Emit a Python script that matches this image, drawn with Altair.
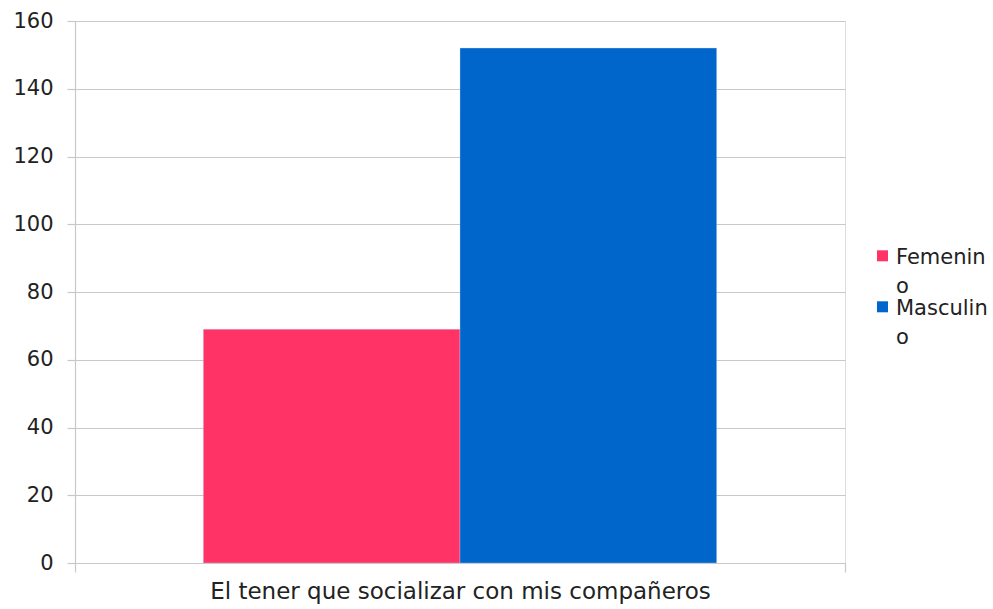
import altair as alt
import pandas as pd

categories = ["El tener que socializar con mis compañeros"]
genders = ["Femenino", "Masculino"]
values = [69, 152]
colors = ["#FF3366", "#0066CC"]
y_ticks = [0, 20, 40, 60, 80, 100, 120, 140, 160]

df = pd.DataFrame({
    "categoria": [categories[0]] * len(genders),
    "genero": genders,
    "valor": values,
})

FONT = "DejaVu Sans"
GRID = "#c8c8c8"
TEXT = "#222222"

chart = alt.Chart(df).mark_bar(stroke="#bcd6f5", strokeWidth=0.6, strokeOpacity=0.6).encode(
    x=alt.X("categoria:N",
            scale=alt.Scale(paddingInner=0, paddingOuter=0),
            axis=alt.Axis(title=None, labelAngle=0, tickBand="extent", grid=False,
                          domain=False, ticks=True, tickSize=9, tickColor=GRID, tickWidth=1.2,
                          labelFont=FONT, labelFontSize=23, labelColor=TEXT,
                          labelPadding=8, labelLimit=800)),
    xOffset=alt.XOffset("genero:N", scale=alt.Scale(domain=genders, paddingInner=0, paddingOuter=0.5)),
    y=alt.Y("valor:Q",
            scale=alt.Scale(domain=[0, 160], nice=False),
            axis=alt.Axis(title=None, values=y_ticks, grid=True, gridColor=GRID, gridWidth=1.2,
                          domain=True, domainColor=GRID, domainWidth=1.2,
                          tickColor=GRID, tickSize=8, tickWidth=1.2,
                          labelFont=FONT, labelFontSize=21, labelColor=TEXT,
                          labelPadding=14)),
    color=alt.Color("genero:N",
                    scale=alt.Scale(domain=genders, range=colors),
                    legend=alt.Legend(title=None, orient="none", legendX=797, legendY=232,
                                      symbolType="M-1,-2.4H1V-0.4H-1Z", symbolSize=121,
                                      symbolStrokeWidth=0,
                                      labelFont=FONT, labelFontSize=21, labelColor=TEXT,
                                      labelExpr="[slice(datum.label, 0, length(datum.label) - 1), slice(datum.label, length(datum.label) - 1)]",
                                      labelBaseline="alphabetic", labelOffset=3,
                                      rowPadding=0, padding=0)),
).properties(
    width=770,
    height=542,
    autosize=alt.AutoSizeParams(type="none"),
    padding={"left": 75, "top": 21, "right": 148, "bottom": 46},
).configure_view(
    stroke=GRID, strokeWidth=1.2
).configure(
    background="white",
    style={"guide-label": {"lineHeight": 29}},
)

chart.save("out.html", embed_options={"renderer": "svg", "actions": False})
